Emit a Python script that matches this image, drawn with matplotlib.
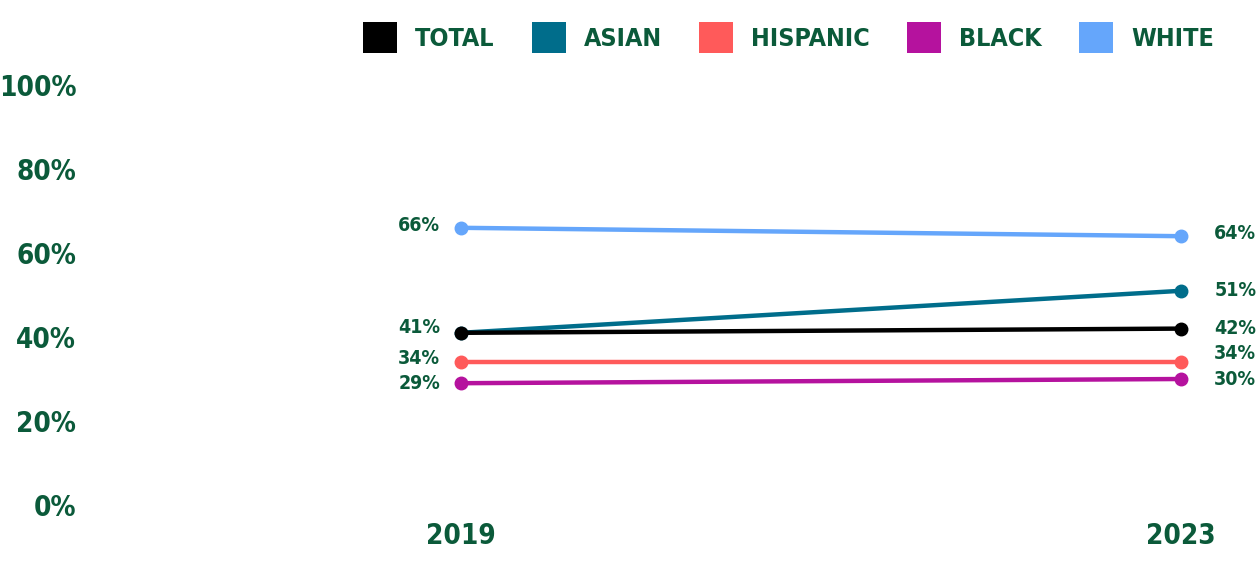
import matplotlib.pyplot as plt
from matplotlib.patches import Patch

# data
years = ["2019", "2023"]
groups = ["TOTAL", "ASIAN", "HISPANIC", "BLACK", "WHITE"]
total = [41, 42]
asian = [41, 51]
hispanic = [34, 34]
black = [29, 30]
white = [66, 64]
colors = ["#000000", "#006d8b", "#ff5a5a", "#b5129e", "#65a6fb"]

green = "#0b5a3a"
plt.rcParams["font.family"] = ["DejaVu Sans"]
plt.rcParams["font.stretch"] = "condensed"
plt.rcParams["font.weight"] = "bold"

fig = plt.figure(figsize=(12.58, 5.61), dpi=100)
ax = fig.add_axes([0.065, 0.0998, 0.935, 0.7487])

x = [0, 1]
# draw back-to-front so total sits on top of asian like in the reference
for vals, c in zip([white, hispanic, black, asian, total], [colors[4], colors[2], colors[3], colors[1], colors[0]]):
    ax.plot(x, vals, color=c, lw=3.2, marker="o", ms=9, solid_capstyle="round")

# labels: (value, y offset in points)
left_labels = [(white[0], 2), (total[0], 4), (hispanic[0], 3), (black[0], 0)]
right_labels = [(white[1], 2), (asian[1], 0), (total[1], 0), (hispanic[1], 6), (black[1], 0)]
for v, dy in left_labels:
    ax.annotate(f"{v}%", (0, v), xytext=(-15, dy), textcoords="offset points",
                ha="right", va="center", fontsize=14, color=green)
for v, dy in right_labels:
    ax.annotate(f"{v}%", (1, v), xytext=(24, dy), textcoords="offset points",
                ha="left", va="center", fontsize=14, color=green)

ax.set_xlim(-0.5265, 1.107)
ax.set_ylim(0, 100)
ax.set_xticks(x)
ax.set_xticklabels(years)
ax.set_yticks(range(0, 101, 20))
ax.set_yticklabels([f"{t}%" for t in range(0, 101, 20)])
ax.tick_params(length=0, labelsize=20, colors=green)
ax.tick_params(axis="x", pad=12)
ax.tick_params(axis="y", pad=4)
for s in ax.spines.values():
    s.set_visible(False)

handles = [Patch(facecolor=c, edgecolor="none") for c in colors]
leg = fig.legend(handles, groups, loc="upper left", bbox_to_anchor=(363 / 1258, 1 - 22 / 561), ncol=5,
                 frameon=False, fontsize=18, handlelength=1.35, handleheight=1.5,
                 columnspacing=1.5, handletextpad=0.72, borderpad=0, borderaxespad=0)
for t in leg.get_texts():
    t.set_color(green)

fig.savefig("out.png", dpi=100)
